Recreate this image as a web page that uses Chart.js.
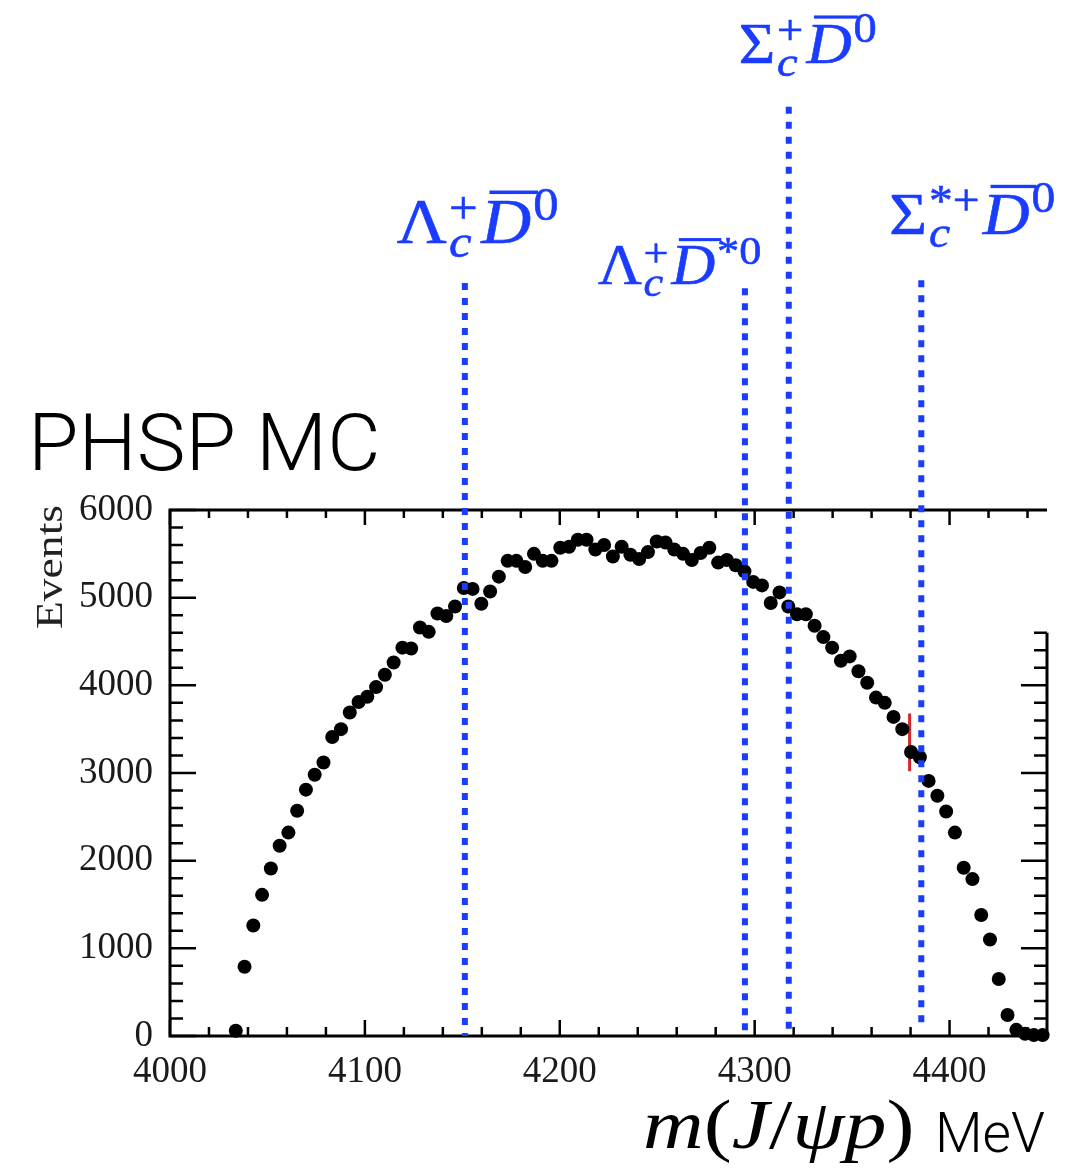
<!DOCTYPE html>
<html>
<head>
<meta charset="utf-8">
<script src="https://cdn.jsdelivr.net/npm/chart.js@4.4.1/dist/chart.umd.min.js"></script>
<style>
  html, body { margin: 0; padding: 0; background: #fff; }
  canvas { display: block; }
</style>
</head>
<body>
<canvas id="chart" width="1077" height="1173"></canvas>
<script>
// bin centres of m(J/psi p) in MeV
const massBins = [
  4033.75, 4038.25, 4042.75, 4047.25, 4051.75, 4056.25, 4060.75, 4065.25, 4069.75, 4074.25,
  4078.75, 4083.25, 4087.75, 4092.25, 4096.75, 4101.25, 4105.75, 4110.25, 4114.75, 4119.25,
  4123.75, 4128.25, 4132.75, 4137.25, 4141.75, 4146.25, 4150.75, 4155.25, 4159.75, 4164.25,
  4168.75, 4173.25, 4177.75, 4182.25, 4186.75, 4191.25, 4195.75, 4200.25, 4204.75, 4209.25,
  4213.75, 4218.25, 4222.75, 4227.25, 4231.75, 4236.25, 4240.75, 4245.25, 4249.75, 4254.25,
  4258.75, 4263.25, 4267.75, 4272.25, 4276.75, 4281.25, 4285.75, 4290.25, 4294.75, 4299.25,
  4303.75, 4308.25, 4312.75, 4317.25, 4321.75, 4326.25, 4330.75, 4335.25, 4339.75, 4344.25,
  4348.75, 4353.25, 4357.75, 4362.25, 4366.75, 4371.25, 4375.75, 4380.25, 4384.75, 4389.25,
  4393.75, 4398.25, 4402.75, 4407.25, 4411.75, 4416.25, 4420.75, 4425.25, 4429.75, 4434.25,
  4438.75, 4443.25, 4447.75
];
const events = [
  60, 790, 1260, 1610, 1910, 2170, 2320, 2570, 2810, 2980,
  3120, 3410, 3500, 3690, 3810, 3870, 3980, 4120, 4260, 4430,
  4420, 4660, 4610, 4820, 4790, 4900, 5110, 5100, 4930, 5070,
  5240, 5420, 5420, 5350, 5500, 5420, 5420, 5570, 5580, 5660,
  5660, 5550, 5600, 5470, 5580, 5490, 5440, 5520, 5640, 5630,
  5550, 5500, 5430, 5510, 5570, 5400, 5430, 5370, 5300, 5180,
  5140, 4940, 5060, 4900, 4810, 4810, 4680, 4550, 4430, 4280,
  4330, 4160, 4030, 3860, 3800, 3640, 3500, 3240, 3180, 2910,
  2740, 2560, 2320, 1920, 1790, 1380, 1100, 650, 240, 70,
  25, 10, 10
];

// thresholds (vertical dotted lines) and their labels
const thresholdMass = [4151.3, 4295.0, 4317.5, 4385.5];
const thresholdTop = [8590, 8530, 10600, 8620];
const thresholdBottom = [0, 0, 0, 120];
const thresholdBase = ['Λ', 'Λ', 'Σ', 'Σ'];
const thresholdBaseSup = ['+', '+', '+', '*+'];
const thresholdDSup = ['0', '*0', '0', '0'];

// the small red marker near 4380 MeV
const markerMass = [4379.5, 4379.5];
const markerEvents = [3680, 3020];

const xTickLabels = [4000, 4100, 4200, 4300, 4400];
const yTickLabels = [0, 1000, 2000, 3000, 4000, 5000, 6000];

const BLUE = '#1a3cff';
const SERIF = '"Liberation Serif", "Times New Roman", serif';
const SANS = 'Roboto, "Liberation Sans", sans-serif';

// label layout: offset from the line, baseline, font size
const labelStyle = [
  { dx: -68, base: 243, size: 64 },
  { dx: -147, base: 284, size: 56 },
  { dx: -50, base: 63, size: 58 },
  { dx: -32, base: 234, size: 60 }
];

const datasets = [{
  type: 'scatter',
  data: massBins.map((m, i) => ({ x: m, y: events[i] })),
  pointRadius: 7,
  pointBackgroundColor: '#000',
  pointBorderWidth: 0,
  clip: false,
  order: 1
}];

thresholdMass.forEach((m, i) => {
  datasets.push({
    type: 'line',
    data: [{ x: m, y: thresholdTop[i] }, { x: m, y: thresholdBottom[i] }],
    borderColor: BLUE,
    borderWidth: 6,
    borderDash: [7, 8],
    borderCapStyle: 'butt',
    pointRadius: 0,
    clip: false,
    order: 0
  });
});

datasets.push({
  type: 'line',
  data: markerMass.map((m, i) => ({ x: m, y: markerEvents[i] })),
  borderColor: '#d3262e',
  borderWidth: 3,
  pointRadius: 0,
  clip: false,
  order: 2
});

function txt(ctx, t, x, y) {
  ctx.fillText(t, x, y);
  ctx.strokeText(t, x, y);
}

function drawParticle(ctx, x, b, s, base, sup, dsup) {
  const small = Math.round(s * 0.74);
  ctx.save();
  ctx.translate(x, b);
  ctx.scale(1.08, 1);
  ctx.strokeStyle = BLUE;
  ctx.lineWidth = 0.6;
  ctx.font = s + 'px ' + SERIF;
  txt(ctx, base, 0, 0);
  const cx = ctx.measureText(base).width + s * 0.03;
  ctx.font = 'italic ' + small + 'px ' + SERIF;
  txt(ctx, 'c', cx, s * 0.22);
  const wc = ctx.measureText('c').width;
  ctx.font = small + 'px ' + SERIF;
  txt(ctx, sup, cx, -s * 0.32);
  const ws = ctx.measureText(sup).width;
  const dx = cx + Math.max(wc, ws) + s * 0.05;
  ctx.font = 'italic ' + s + 'px ' + SERIF;
  txt(ctx, 'D', dx, 0);
  const wd = ctx.measureText('D').width;
  ctx.fillRect(dx + s * 0.12, -s * 0.82, wd - s * 0.02, s * 0.055);
  ctx.font = small + 'px ' + SERIF;
  txt(ctx, dsup, dx + wd + s * 0.03, -s * 0.36);
  ctx.restore();
}

const framePlugin = {
  id: 'frame',
  beforeDatasetsDraw(chart) {
    const { ctx, chartArea: a, scales: { x, y } } = chart;
    ctx.save();
    ctx.strokeStyle = '#000';
    ctx.lineWidth = 3;
    const rightTop = y.getPixelForValue(4600);
    ctx.beginPath();
    ctx.moveTo(a.left, a.top - 1.5); ctx.lineTo(a.left, a.bottom + 1.5);
    ctx.moveTo(a.left, a.bottom); ctx.lineTo(a.right, a.bottom);
    ctx.moveTo(a.left, a.top); ctx.lineTo(a.right, a.top);
    ctx.moveTo(a.right, rightTop); ctx.lineTo(a.right, a.bottom + 1.5);
    ctx.stroke();
    ctx.lineWidth = 2.5;
    ctx.beginPath();
    for (let v = 4000; v <= 4440; v += 20) {
      const px = x.getPixelForValue(v);
      const major = v % 100 === 0;
      ctx.moveTo(px, a.bottom); ctx.lineTo(px, a.bottom - (major ? 16 : 9));
      ctx.moveTo(px, a.top); ctx.lineTo(px, a.top + (major ? 15 : 8));
    }
    for (let v = 0; v <= 6000; v += 200) {
      const py = y.getPixelForValue(v);
      const major = v % 1000 === 0;
      ctx.moveTo(a.left, py); ctx.lineTo(a.left + (major ? 26 : 13), py);
      if (v <= 4600) {
        ctx.moveTo(a.right, py); ctx.lineTo(a.right - (major ? 26 : 13), py);
      }
    }
    ctx.stroke();
    ctx.restore();
  },
  afterDraw(chart) {
    const { ctx, scales: { x } } = chart;
    ctx.save();
    ctx.fillStyle = BLUE;
    ctx.textBaseline = 'alphabetic';
    ctx.textAlign = 'left';
    thresholdMass.forEach((m, i) => {
      const st = labelStyle[i];
      drawParticle(ctx, x.getPixelForValue(m) + st.dx, st.base, st.size,
        thresholdBase[i], thresholdBaseSup[i], thresholdDSup[i]);
    });

    ctx.fillStyle = '#000';
    ctx.save();
    ctx.translate(28, 470);
    ctx.scale(1.04, 1);
    ctx.font = '300 79px ' + SANS;
    ctx.fillText('PHSP MC', 0, 0);
    ctx.restore();

    // y axis title
    ctx.save();
    ctx.translate(62, 567);
    ctx.rotate(-Math.PI / 2);
    ctx.scale(1.2, 1);
    ctx.textAlign = 'center';
    ctx.fillStyle = '#222';
    ctx.font = '38px ' + SERIF;
    ctx.fillText('Events', 0, 0);
    ctx.restore();

    // x axis title
    ctx.save();
    ctx.translate(643, 1148);
    ctx.scale(1.2, 1);
    let cx = 0;
    const parts = [['m', true], ['(', false], ['J', true], ['/', false], ['ψ', true], ['p', true], [')', false]];
    parts.forEach(([t, it]) => {
      ctx.font = (it ? 'italic ' : '') + '70px ' + SERIF;
      ctx.fillText(t, cx, 0);
      cx += ctx.measureText(t).width;
    });
    ctx.restore();
    ctx.font = '300 55px ' + SANS;
    ctx.fillText('MeV', 935, 1152);
    ctx.restore();
  }
};

new Chart(document.getElementById('chart'), {
  data: { datasets },
  options: {
    responsive: false,
    animation: false,
    devicePixelRatio: 1,
    layout: { padding: { top: 510, right: 30, left: 0, bottom: 0 } },
    plugins: { legend: { display: false }, tooltip: { enabled: false } },
    scales: {
      x: {
        type: 'linear',
        min: 4000,
        max: 4450,
        afterFit(s) { s.height = 137; },
        grid: { display: false },
        border: { display: false },
        afterBuildTicks(s) { s.ticks = xTickLabels.map(v => ({ value: v })); },
        ticks: {
          autoSkip: false,
          maxRotation: 0,
          padding: 6,
          color: '#1a1a1a',
          font: { family: SERIF, size: 37 },
          callback: v => String(v)
        }
      },
      y: {
        type: 'linear',
        min: 0,
        max: 6000,
        afterFit(s) { s.width = 170; },
        grid: { display: false },
        border: { display: false },
        afterBuildTicks(s) { s.ticks = yTickLabels.map(v => ({ value: v })); },
        ticks: {
          autoSkip: false,
          padding: 9,
          color: '#1a1a1a',
          font: { family: SERIF, size: 37 },
          callback: v => String(v)
        }
      }
    }
  },
  plugins: [framePlugin]
});
</script>
</body>
</html>
